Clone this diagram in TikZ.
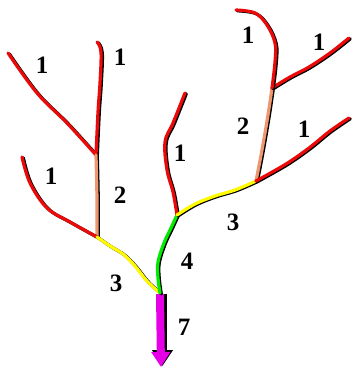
\documentclass[tikz,border=0pt]{standalone}
\usepackage{fontspec}
\setmainfont{Liberation Serif}
\usetikzlibrary{arrows.meta}
\definecolor{rivred}{RGB}{235,10,10}
\definecolor{rivorange}{RGB}{240,150,110}
\definecolor{rivyellow}{RGB}{255,250,0}
\definecolor{rivgreen}{RGB}{0,235,0}
\definecolor{rivmag}{RGB}{230,0,230}
\tikzset{
  shade line/.style={black, line width=3.2pt, line cap=round, line join=round, shift={(1.3,0.8)}},
  seg/.style={line width=3.2pt, line cap=round, line join=round},
  lbl/.style={font=\fontsize{25}{25}\selectfont\bfseries, inner sep=0pt}
}
\newcommand{\riv}[2]{%
  \draw[shade line] plot[smooth, tension=0.6] coordinates {#2};
  \draw[seg, #1] plot[smooth, tension=0.6] coordinates {#2};
}
\begin{document}
\begin{tikzpicture}[x=1pt, y=-1pt]
\useasboundingbox (0,0) rectangle (352,367);
% junctions
\coordinate (JL2) at (96,155);
\coordinate (JL3) at (97,237);
\coordinate (J4) at (160,293);
\coordinate (J3) at (177,215);
\coordinate (JR2) at (256,181);
\coordinate (JR1) at (272,88);
\coordinate (tip) at (161,367);
% arrow 7
\draw[black, line width=9pt, -{Triangle[width=20pt,length=16pt]}, shift={(1.5,0)}] (161,294) -- (161,366);
\draw[rivmag, line width=8pt, -{Triangle[width=18pt,length=15pt]}] (J4) ++(0,1) -- (tip);
% left subtree
\riv{rivred}{(8,53) (37,93) (67,123) (96,155)}
\riv{rivred}{(97,42) (101,52) (100,83) (98,112) (96,155)}
\riv{rivorange}{(96,155) (97,200) (97,237)}
\riv{rivred}{(22,157) (30,183) (47,208) (70,222) (97,237)}
\riv{rivyellow}{(97,237) (110,246) (123,254) (135,266) (147,281) (160,293)}
% middle
\riv{rivgreen}{(160,293) (158,278) (158,262) (164,243) (171,228) (177,215)}
\riv{rivred}{(185,93) (173,123) (165,142) (167,170) (173,192) (177,215)}
% right subtree
\riv{rivyellow}{(177,215) (195,204) (215,196) (235,190) (256,181)}
\riv{rivorange}{(256,181) (262,150) (268,115) (272,88)}
\riv{rivred}{(256,181) (286,164) (309,148) (330,131) (349,118)}
\riv{rivred}{(272,88) (290,77) (309,67) (330,53) (349,38)}
\riv{rivred}{(272,88) (275,62) (275,43) (267,25) (255,13) (236,10)}
% labels
\node[lbl] (a1) at (42,65) {1};
\node[lbl] (a2) at (120,57) {1};
\node[lbl] (a3) at (51,176) {1};
\node[lbl] (a4) at (120,195) {2};
\node[lbl] (a5) at (116,283) {3};
\node[lbl] (a6) at (180,153) {1};
\node[lbl] (a7) at (187,261) {4};
\node[lbl] (a8) at (184,327) {7};
\node[lbl] (a9) at (233,222) {3};
\node[lbl] (a10) at (243,126) {2};
\node[lbl] (a11) at (304,129) {1};
\node[lbl] (a12) at (248,35) {1};
\node[lbl] (a13) at (319,42) {1};
\end{tikzpicture}
\end{document}
